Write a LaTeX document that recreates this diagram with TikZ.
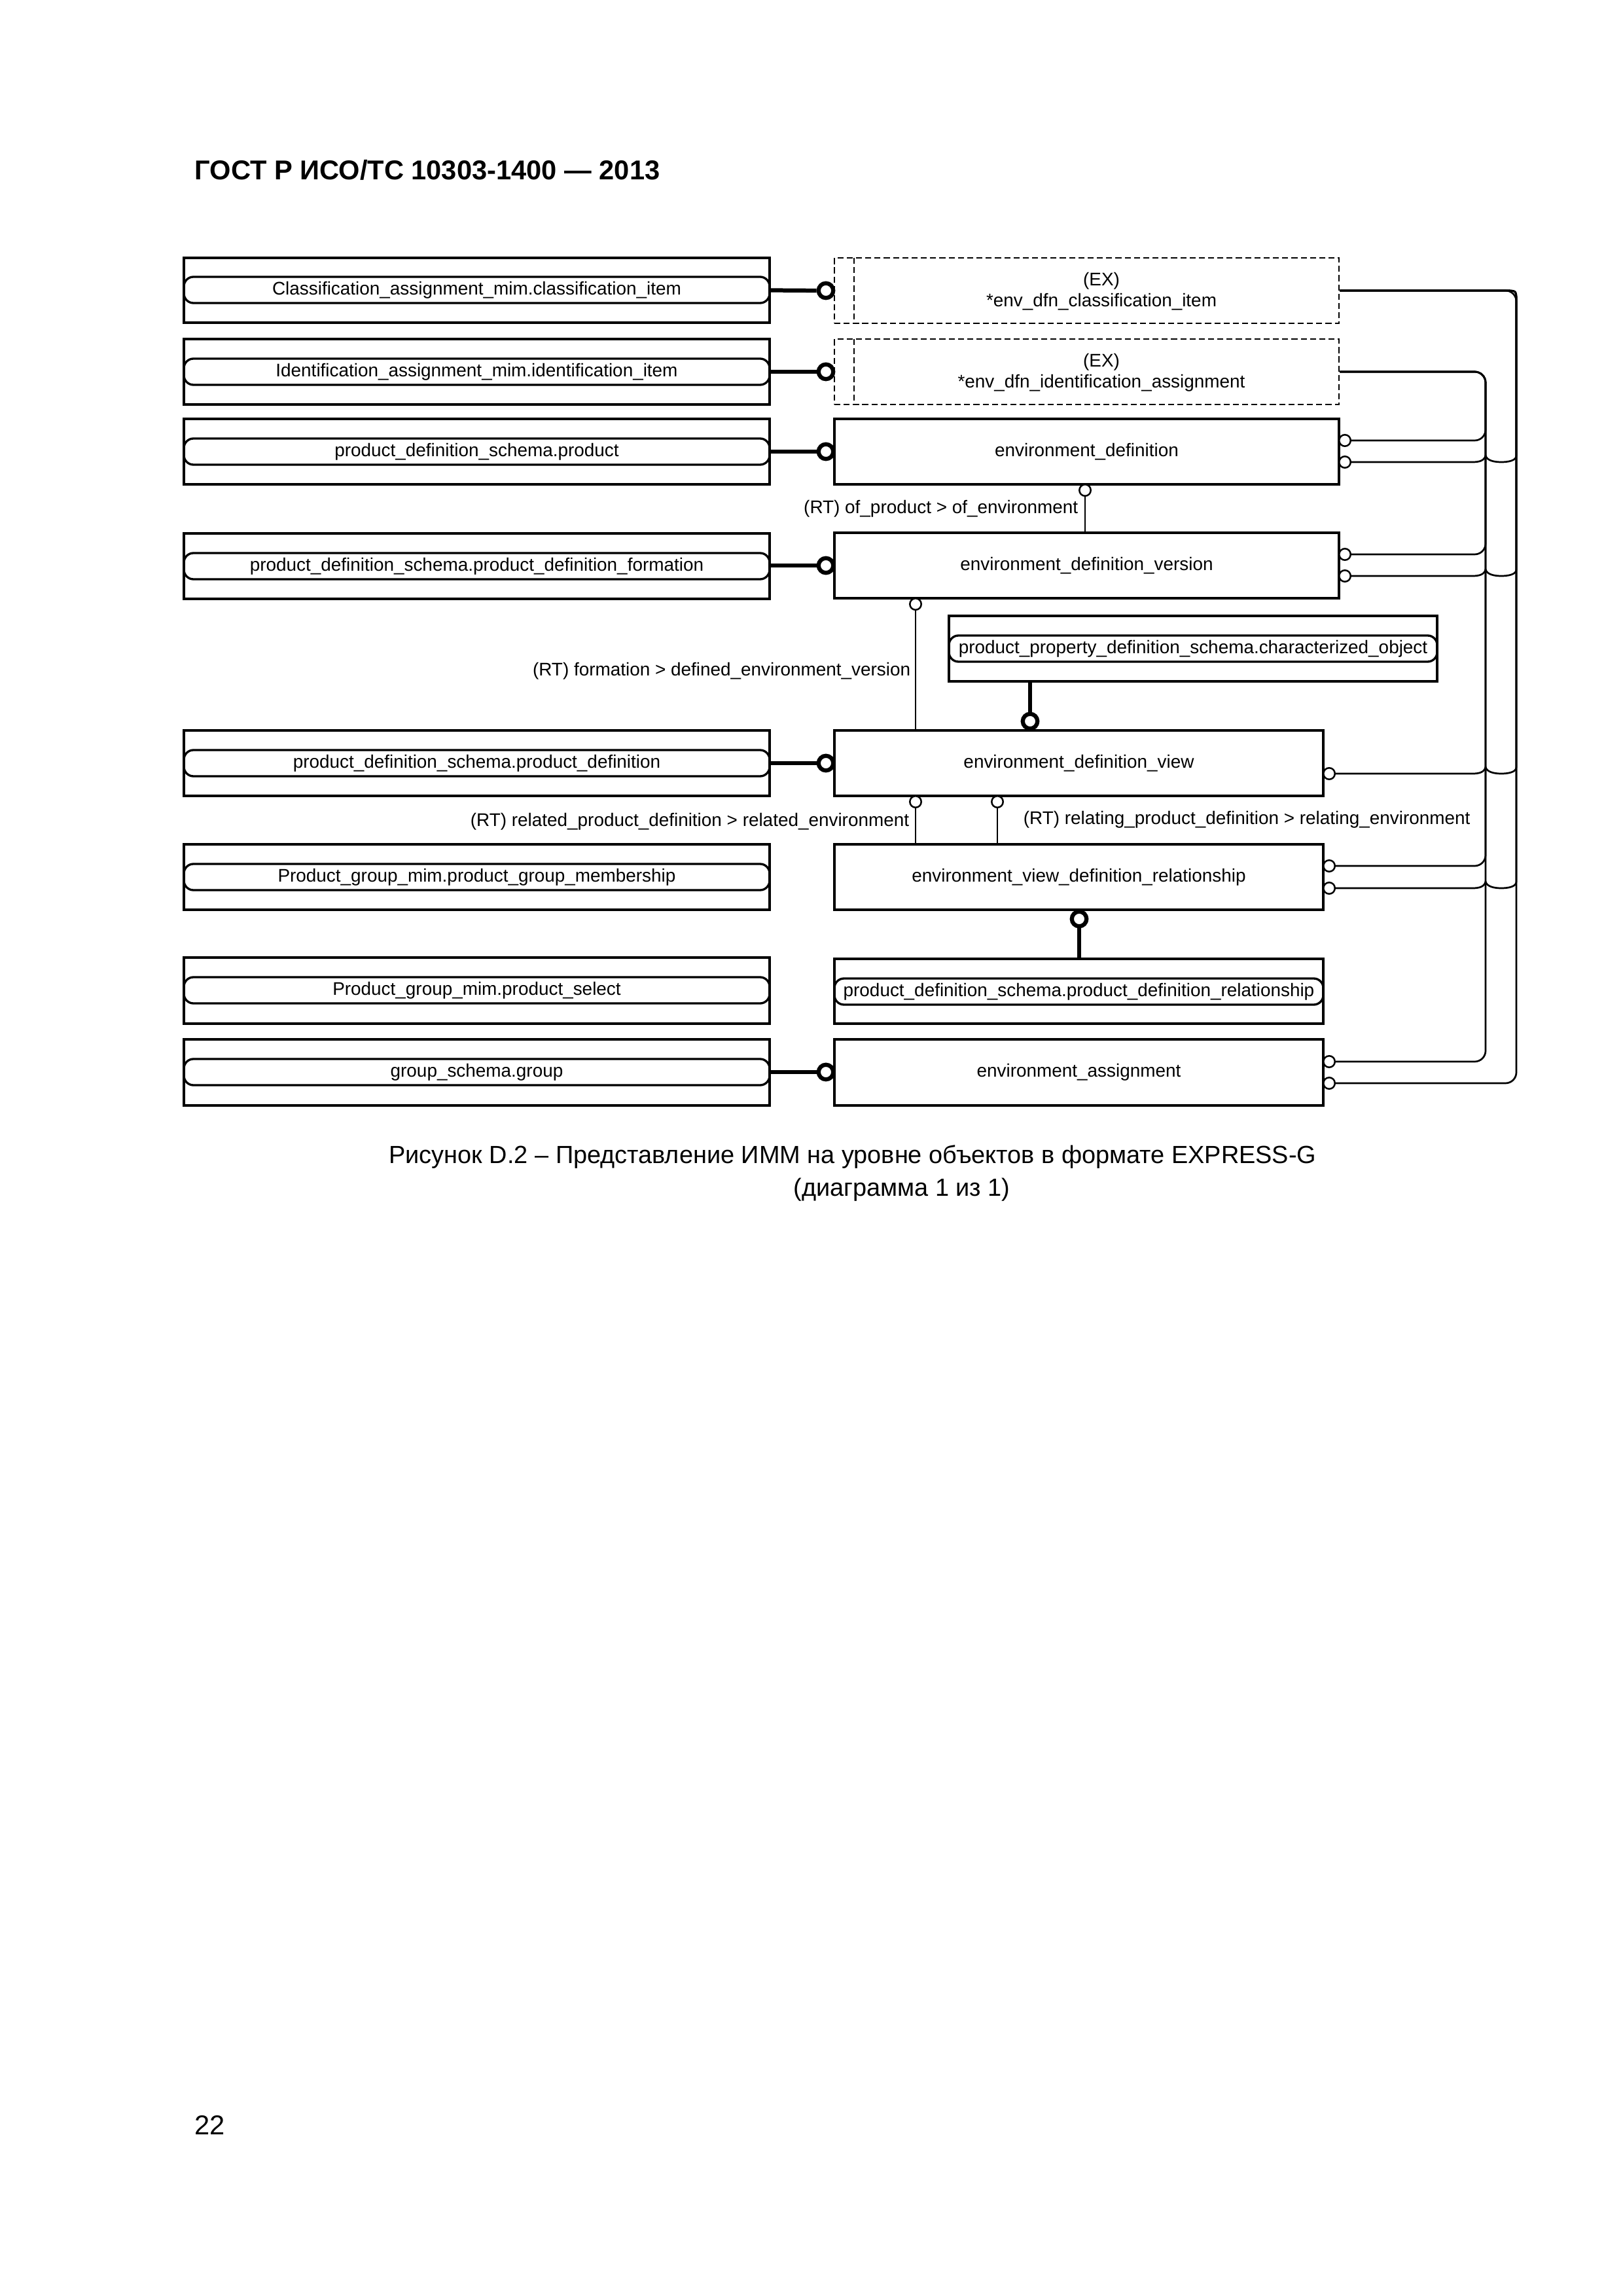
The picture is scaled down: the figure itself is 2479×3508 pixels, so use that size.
\documentclass[tikz,border=0pt]{standalone}
\usepackage{fontspec}
\setmainfont{Liberation Sans}
\usetikzlibrary{fit,calc}
\newcommand\dgfont{\fontsize{6.7}{7.7}\selectfont}
\newcommand\hopline[2]{%
 \draw[conn] (d1.east) -- (2301,444) .. controls (2317,444) .. (2317,460)
   -- (2317,#2-10) .. controls (2317,#2-2) and (2304,#2) .. (2294,#2)
   .. controls (2284,#2) and (2272,#2-2) .. (2270,#2-10)
   .. controls (2268,#2-2) and (2260,#2) .. (2250,#2) -- (#1.east);}
\begin{document}
\begin{tikzpicture}[x=0.24014pt,y=-0.24014pt,
 box/.style={draw, line width=0.8pt, inner sep=0pt},
 txt/.style={label={[font=\dgfont, inner sep=0pt, align=center]center:#1}},
 tbar/.style={draw, line width=0.8pt, inner sep=0pt, rounded corners=3.5pt},
 xbox/.style={draw, inner sep=0pt, dash pattern=on 2.2pt off 1.2pt, line width=0.7pt},
 conn/.style={line width=0.65pt},
 tconn/.style={line width=1.5pt},
 sc/.style={circle, draw, fill=white, line width=0.6pt, minimum size=4.2pt, inner sep=0pt},
 bc/.style={circle, draw, fill=white, line width=1.5pt, minimum size=5.4pt, inner sep=0pt},
 lbl/.style={font=\dgfont, inner sep=0pt},
]
\useasboundingbox (0,0) rectangle (2479,3508);

% title
\node[anchor=base west, inner sep=0pt, font=\bfseries\fontsize{10}{12}\selectfont] (title) at (297,275) {ГОСТ Р ИСО/ТС 10303-1400 — 2013};

% left column
\node[box, fit={(281,394)(1176,493)}] (c1) {};
\node[tbar, fit={(281,423)(1176,463)}, txt={Classification\_assignment\_mim.classification\_item}] (c1b) {};
\node[box, fit={(281,518)(1176,618)}] (c2) {};
\node[tbar, fit={(281,548)(1176,588)}, txt={Identification\_assignment\_mim.identification\_item}] (c2b) {};
\node[box, fit={(281,640)(1176,740)}] (c3) {};
\node[tbar, fit={(281,670)(1176,710)}, txt={product\_definition\_schema.product}] (c3b) {};
\node[box, fit={(281,815)(1176,915)}] (c4) {};
\node[tbar, fit={(281,845)(1176,885)}, txt={product\_definition\_schema.product\_definition\_formation}] (c4b) {};
\node[box, fit={(281,1116)(1176,1216)}] (c5) {};
\node[tbar, fit={(281,1146)(1176,1186)}, txt={product\_definition\_schema.product\_definition}] (c5b) {};
\node[box, fit={(281,1290)(1176,1390)}] (c6) {};
\node[tbar, fit={(281,1320)(1176,1360)}, txt={Product\_group\_mim.product\_group\_membership}] (c6b) {};
\node[box, fit={(281,1463)(1176,1564)}] (c7) {};
\node[tbar, fit={(281,1493)(1176,1533)}, txt={Product\_group\_mim.product\_select}] (c7b) {};
\node[box, fit={(281,1588)(1176,1689)}] (c8) {};
\node[tbar, fit={(281,1618)(1176,1658)}, txt={group\_schema.group}] (c8b) {};

% right column
\node[xbox, fit={(1275,394)(2046,494)}] (d1) {};
\draw[dash pattern=on 2.2pt off 1.2pt, line width=0.7pt] (1305,394) -- (1305,494);
\node[lbl, align=center] (d1t) at (1683,445) {(EX)\\*env\_dfn\_classification\_item};
\node[xbox, fit={(1275,518)(2046,618)}] (d2) {};
\draw[dash pattern=on 2.2pt off 1.2pt, line width=0.7pt] (1305,518) -- (1305,618);
\node[lbl, align=center] (d2t) at (1683,569) {(EX)\\*env\_dfn\_identification\_assignment};

\node[box, fit={(1275,640)(2046,740)}, txt={environment\_definition}] (edef) {};
\node[box, fit={(1275,814)(2046,914)}, txt={environment\_definition\_version}] (ever) {};
\node[box, fit={(1450,941)(2196,1041)}] (chr) {};
\node[tbar, fit={(1450,971)(2196,1011)}, txt={product\_property\_definition\_schema.characterized\_object}] (chrb) {};
\node[box, fit={(1275,1116)(2022,1216)}, txt={environment\_definition\_view}] (eview) {};
\node[box, fit={(1275,1290)(2022,1390)}, txt={environment\_view\_definition\_relationship}] (erel) {};
\node[box, fit={(1275,1465)(2022,1564)}] (pdr) {};
\node[tbar, fit={(1275,1495)(2022,1535)}, txt={product\_definition\_schema.product\_definition\_relationship}] (pdrb) {};
\node[box, fit={(1275,1588)(2022,1689)}, txt={environment\_assignment}] (easg) {};

% thick connectors from left column
\node[bc] (o1) at (1262,444) {};
\node[bc] (o2) at (1262,568) {};
\node[bc] (o3) at (1262,690) {};
\node[bc] (o4) at (1262,864) {};
\node[bc] (o5) at (1262,1166) {};
\node[bc] (o8) at (1262,1638) {};
\draw[tconn] (c1.east) -- (o1.west);
\draw[tconn] (c2.east) -- (o2.west);
\draw[tconn] (c3.east) -- (o3.west);
\draw[tconn] (c4.east |- o4) -- (o4.west);
\draw[tconn] (c5.east) -- (o5.west);
\draw[tconn] (c8.east |- o8) -- (o8.west);

% vertical thick connectors
\node[bc] (ov) at (1574,1102) {};
\draw[tconn] (chr.south -| ov) -- (ov.north);
\node[bc] (or) at (1649,1404) {};
\draw[tconn] (or.south) -- (or.south |- pdr.north);

% thin attribute connectors
\node[sc] (s1) at (1658,749) {};
\draw[conn] (s1.south) -- (s1.south |- ever.north);
\node[sc] (s2) at (1399,923) {};
\draw[conn] (s2.south) -- (s2.south |- eview.north);
\node[sc] (s3) at (1399,1225) {};
\draw[conn] (s3.south) -- (s3.south |- erel.north);
\node[sc] (s4) at (1524,1225) {};
\draw[conn] (s4.south) -- (s4.south |- erel.north);

% labels
\node[lbl, anchor=east] (l1) at (1648,777) {(RT) of\_product > of\_environment};
\node[lbl, anchor=east] (l2) at (1392,1025) {(RT) formation > defined\_environment\_version};
\node[lbl, anchor=east] (l3) at (1390,1255) {(RT) related\_product\_definition > related\_environment};
\node[lbl, anchor=west] (l4) at (1563,1252) {(RT) relating\_product\_definition > relating\_environment};

% right-side circles
\node[sc] (r11) at (2055,673) {};
\node[sc] (r12) at (2055,706) {};
\node[sc] (r21) at (2055,847) {};
\node[sc] (r22) at (2055,880) {};
\node[sc] (r3) at (2031,1182) {};
\node[sc] (r41) at (2031,1323) {};
\node[sc] (r42) at (2031,1357) {};
\node[sc] (r51) at (2031,1622) {};
\node[sc] (r52) at (2031,1655) {};

\coordinate (b1) at (2270,568);
\coordinate (b2) at (2317,444);
% bus 1 (identification assignment)
\draw[conn, rounded corners=4pt] (d2.east) -| (b1 |- r11.east) -- (r11.east);
\draw[conn, rounded corners=4pt] (d2.east) -| (b1 |- r21.east) -- (r21.east);
\draw[conn, rounded corners=4pt] (d2.east) -| (b1 |- r41.east) -- (r41.east);
\draw[conn, rounded corners=4pt] (d2.east) -| (b1 |- r51.east) -- (r51.east);
% bus 2 (classification item)
\hopline{r12}{706}
\hopline{r22}{880}
\hopline{r3}{1182}
\hopline{r42}{1357}
\draw[conn, rounded corners=4pt] (d1.east) -| (b2 |- r52.east) -- (r52.east);

% caption
\node[inner sep=0pt, font=\fontsize{9.1}{11}\selectfont] (cap1) at (1303,1768) {Рисунок D.2 – Представление ИММ на уровне объектов в формате EXPRESS-G};
\node[inner sep=0pt, font=\fontsize{9.1}{11}\selectfont] (cap2) at (1378,1818) {(диаграмма 1 из 1)};

% page number
\node[anchor=base west, inner sep=0pt, font=\fontsize{10}{12}\selectfont] (pg) at (297,3261) {22};
\end{tikzpicture}
\end{document}
